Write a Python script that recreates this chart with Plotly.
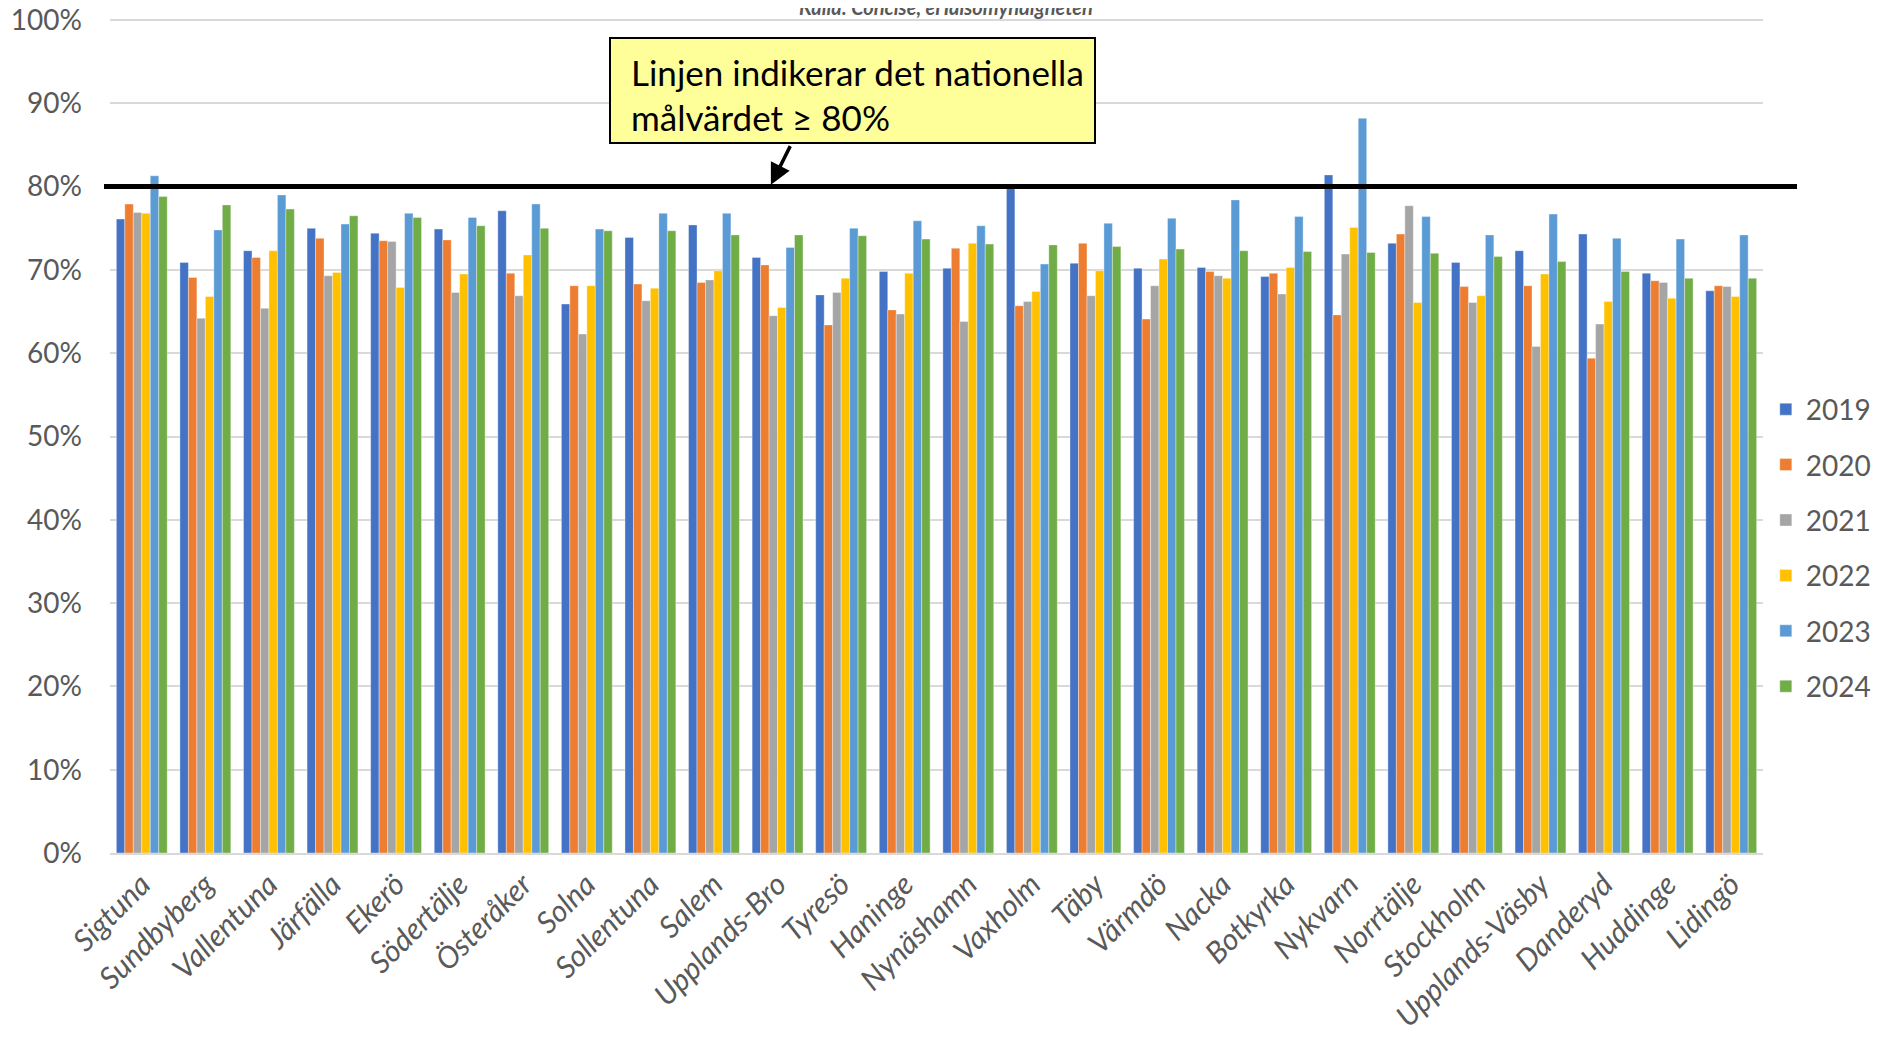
import plotly.graph_objects as go

categories = ["Sigtuna", "Sundbyberg", "Vallentuna", "Järfälla", "Ekerö", "Södertälje",
              "Österåker", "Solna", "Sollentuna", "Salem", "Upplands-Bro", "Tyresö",
              "Haninge", "Nynäshamn", "Vaxholm", "Täby", "Värmdö", "Nacka", "Botkyrka",
              "Nykvarn", "Norrtälje", "Stockholm", "Upplands-Väsby", "Danderyd",
              "Huddinge", "Lidingö"]

v2019 = [76.1, 70.9, 72.3, 75.0, 74.4, 74.9, 77.1, 65.9, 73.9, 75.4, 71.5, 67.0, 69.8,
         70.2, 79.9, 70.8, 70.2, 70.3, 69.2, 81.4, 73.2, 70.9, 72.3, 74.3, 69.6, 67.5]
v2020 = [77.9, 69.1, 71.5, 73.8, 73.5, 73.6, 69.6, 68.1, 68.3, 68.5, 70.6, 63.4, 65.2,
         72.6, 65.7, 73.2, 64.1, 69.8, 69.6, 64.6, 74.3, 68.0, 68.1, 59.4, 68.7, 68.1]
v2021 = [76.9, 64.2, 65.4, 69.3, 73.4, 67.3, 66.9, 62.3, 66.3, 68.8, 64.5, 67.3, 64.7,
         63.8, 66.2, 66.9, 68.1, 69.3, 67.1, 71.9, 77.7, 66.1, 60.8, 63.5, 68.5, 68.0]
v2022 = [76.8, 66.8, 72.3, 69.7, 67.9, 69.5, 71.8, 68.1, 67.8, 69.9, 65.5, 69.0, 69.6,
         73.2, 67.4, 69.9, 71.3, 69.0, 70.3, 75.1, 66.1, 66.9, 69.5, 66.2, 66.6, 66.8]
v2023 = [81.3, 74.8, 79.0, 75.5, 76.8, 76.3, 77.9, 74.9, 76.8, 76.8, 72.7, 75.0, 75.9,
         75.3, 70.7, 75.6, 76.2, 78.4, 76.4, 88.2, 76.4, 74.2, 76.7, 73.8, 73.7, 74.2]
v2024 = [78.8, 77.8, 77.3, 76.5, 76.3, 75.3, 75.0, 74.7, 74.7, 74.2, 74.2, 74.1, 73.7,
         73.1, 73.0, 72.8, 72.5, 72.3, 72.2, 72.1, 72.0, 71.6, 71.0, 69.8, 69.0, 69.0]

years = ["2019", "2020", "2021", "2022", "2023", "2024"]
series = [v2019, v2020, v2021, v2022, v2023, v2024]
colors = ["#4472C4", "#ED7D31", "#A5A5A5", "#FFC000", "#5B9BD5", "#70AD47"]
y_ticks = [0, 10, 20, 30, 40, 50, 60, 70, 80, 90, 100]
y_ticktext = ["%d%%" % t for t in y_ticks]

target = 80
note_line1 = "Linjen indikerar det nationella"
note_line2 = "målvärdet ≥ 80%"
source = "Källa: Concise, eHälsomyndigheten"

FONT = "Lato"
GREY = "#595959"

# page geometry (browser body has an 8px margin)
W, H = 1871, 1032
YMAX = 100.6
PB = 853                                    # y=0 in page pixels
PX_PER_UNIT = 8.33                          # page pixels per percent
PL, PR = 110, 1763
PT = round(PB - YMAX * PX_PER_UNIT)
ML, MT = PL - 8, PT - 8
MR = W - (PR - 8)
MB = H - (PB - 8)
PW, PH = PR - PL, PB - PT


def px(xpage):
    return (xpage - PL) / PW


def py(ypage):
    return (PB - ypage) / PH


fig = go.Figure()
for name, vals, col in zip(years, series, colors):
    fig.add_trace(go.Bar(
        x=categories, y=vals, name=name, legendgroup=name,
        marker=dict(color=col, line=dict(width=0.8, color="rgba(255,255,255,0.45)")),
    ))

fig.update_layout(
    width=W, height=H,
    margin=dict(l=ML, r=MR, t=MT, b=MB),
    paper_bgcolor="white", plot_bgcolor="white",
    barmode="group", bargap=0.2, bargroupgap=0,
    font=dict(family=FONT, color=GREY),
    showlegend=True,
    legend=dict(
        xref="container", yref="container",
        x=0.9395, y=1 - (548 - 8) / H, xanchor="left", yanchor="middle",
        font=dict(size=28, color=GREY, family=FONT),
        traceorder="grouped", tracegroupgap=16,
        itemwidth=30,
    ),
)

fig.update_yaxes(
    range=[0, YMAX], tickmode="array", tickvals=y_ticks, ticktext=y_ticktext,
    showgrid=True, gridcolor="#D9D9D9", gridwidth=1.5,
    zeroline=False, showline=False, automargin=False,
    tickfont=dict(size=28, color=GREY, family=FONT),
    ticklabelstandoff=27, ticklabeloverflow="allow",
)
fig.update_xaxes(
    tickangle=-45, automargin=False,
    tickfont=dict(size=30, color=GREY, family=FONT),
    showline=True, linecolor="#D9D9D9", linewidth=2,
    ticks="",
    tickmode="array", tickvals=categories,
    ticktext=["<i>%s</i>" % c for c in categories],
)

# national target line
fig.add_shape(type="line", xref="paper", yref="y",
              x0=px(104), x1=px(1797), y0=target, y1=target,
              line=dict(color="black", width=5))

# note box
fig.add_shape(type="rect", xref="paper", yref="paper",
              x0=px(610), x1=px(1095), y0=py(143), y1=py(38),
              fillcolor="#FFFF99", line=dict(color="black", width=2))
fig.add_annotation(xref="paper", yref="paper",
                   x=px(629), y=py(72),
                   xanchor="left", yanchor="middle", showarrow=False,
                   text=note_line1, font=dict(size=35, color="black", family=FONT))
fig.add_annotation(xref="paper", yref="paper",
                   x=px(629), y=py(117),
                   xanchor="left", yanchor="middle", showarrow=False,
                   text=note_line2, font=dict(size=35, color="black", family=FONT))
# arrow
fig.add_annotation(xref="paper", yref="y",
                   x=px(770), y=target,
                   ax=21, ay=-42, text="", showarrow=True,
                   arrowhead=2, arrowsize=1.2, arrowwidth=3.5, arrowcolor="black",
                   standoff=2)

# source
fig.add_annotation(xref="paper", yref="paper",
                   x=px(946), y=py(7),
                   xanchor="center", yanchor="middle", showarrow=False,
                   text="<b><i>" + source + "</i></b>",
                   font=dict(size=20, color=GREY, family=FONT))

fig.write_html("out.html")
